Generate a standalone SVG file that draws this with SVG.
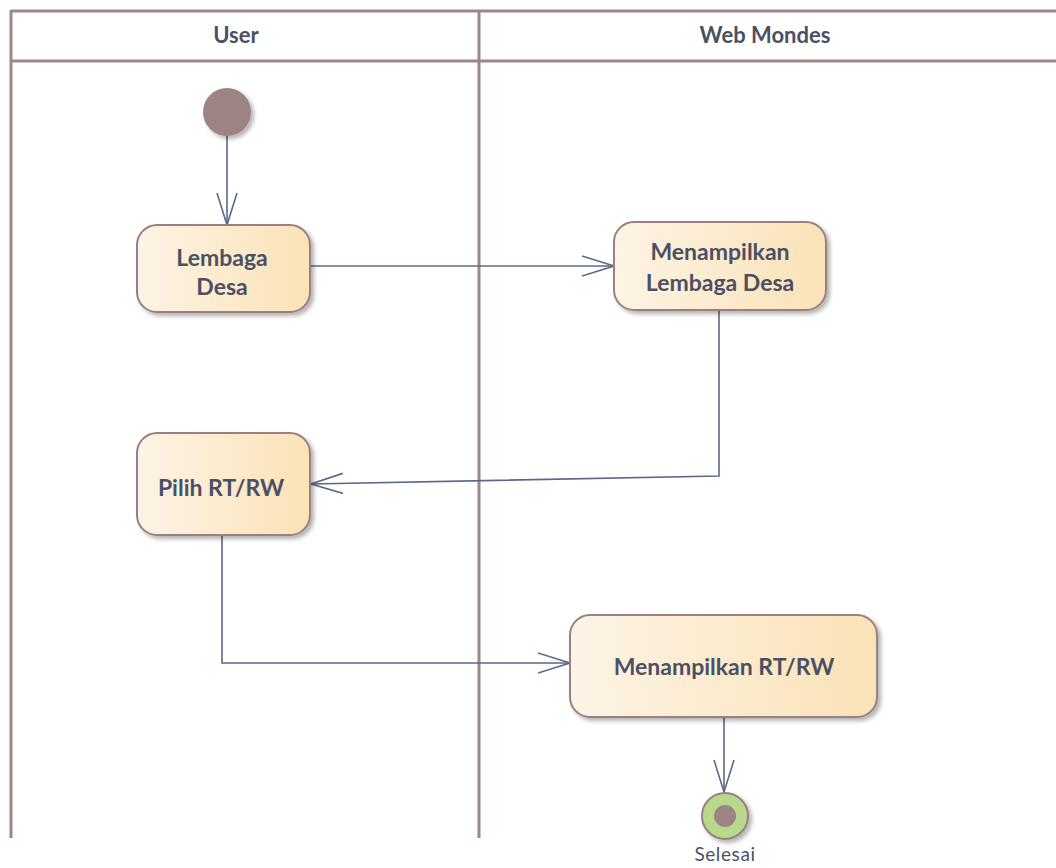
<svg xmlns="http://www.w3.org/2000/svg" width="1056" height="868" viewBox="0 0 1056 868">
<defs>
<linearGradient id="g" x1="0" y1="0" x2="1" y2="0">
<stop offset="0" stop-color="#fdf4e6"/>
<stop offset="1" stop-color="#fbe2b6"/>
</linearGradient>
<filter id="sh" x="-10%" y="-10%" width="130%" height="130%">
<feGaussianBlur in="SourceAlpha" stdDeviation="2"/>
<feOffset dx="3" dy="3"/>
<feComponentTransfer><feFuncA type="linear" slope="0.3"/></feComponentTransfer>
<feMerge><feMergeNode/><feMergeNode in="SourceGraphic"/></feMerge>
</filter>
<marker id="ar" markerWidth="34" markerHeight="22" refX="32" refY="11" orient="auto" markerUnits="userSpaceOnUse">
<path d="M0,1 L32,11 L0,21" fill="none" stroke="#5b6888" stroke-width="1.6"/>
</marker>
</defs>
<style>
.lane{stroke:#9c8888;stroke-width:3;fill:none}
.node{fill:url(#g);stroke:#9a8080;stroke-width:2;filter:url(#sh)}
.t{font-family:Lato,"Open Sans",sans-serif;font-weight:bold;font-size:23px;fill:#4b5064;text-anchor:middle}
.h{font-family:Lato,"Open Sans",sans-serif;font-weight:bold;font-size:22px;fill:#4b5064;text-anchor:middle}
.c{stroke:#5b6888;stroke-width:1.6;fill:none}
</style>
<g id="lanes">
<line class="lane" x1="11" y1="11" x2="1056" y2="11"/>
<line class="lane" x1="11" y1="61" x2="1056" y2="61"/>
<line class="lane" x1="11" y1="10" x2="11" y2="838"/>
<line class="lane" x1="479" y1="10" x2="479" y2="838"/>
<text class="h" x="236" y="43">User</text>
<text class="h" x="765" y="43">Web Mondes</text>
</g>
<g id="connectors">
<line class="c" x1="227" y1="136" x2="227" y2="225" marker-end="url(#ar)"/>
<line class="c" x1="311" y1="266" x2="614" y2="266" marker-end="url(#ar)"/>
<polyline class="c" points="719,310 719,476 311,484" marker-end="url(#ar)"/>
<polyline class="c" points="222,535 222,663 570,663" marker-end="url(#ar)"/>
<line class="c" x1="724" y1="717" x2="724" y2="792" marker-end="url(#ar)"/>
</g>
<g id="start">
<circle cx="227" cy="112" r="24" fill="#9c8484" filter="url(#sh)"/>
</g>
<g id="lembaga">
<rect class="node" x="137" y="225" width="173" height="87" rx="20"/>
<text class="t" x="222" y="266">Lembaga</text>
<text class="t" x="222" y="295">Desa</text>
</g>
<g id="menampilkan-lembaga">
<rect class="node" x="614" y="222" width="212" height="88" rx="20"/>
<text class="t" x="720" y="260">Menampilkan</text>
<text class="t" x="720" y="291">Lembaga Desa</text>
</g>
<g id="pilih">
<rect class="node" x="137" y="433" width="173" height="102" rx="20"/>
<text class="t" x="221" y="496">Pilih RT/RW</text>
</g>
<g id="menampilkan-rtrw">
<rect class="node" x="570" y="615" width="307" height="102" rx="20"/>
<text class="t" x="724" y="675">Menampilkan RT/RW</text>
</g>
<g id="end">
<circle cx="725" cy="816" r="23" fill="#b8d98c" stroke="#9a8080" stroke-width="2" filter="url(#sh)"/>
<circle cx="725" cy="816" r="11" fill="#9c8484"/>
<text x="725" y="861" font-family="Lato,'Open Sans',sans-serif" font-size="19" letter-spacing="0.6" fill="#4b5064" text-anchor="middle">Selesai</text>
</g>
</svg>
